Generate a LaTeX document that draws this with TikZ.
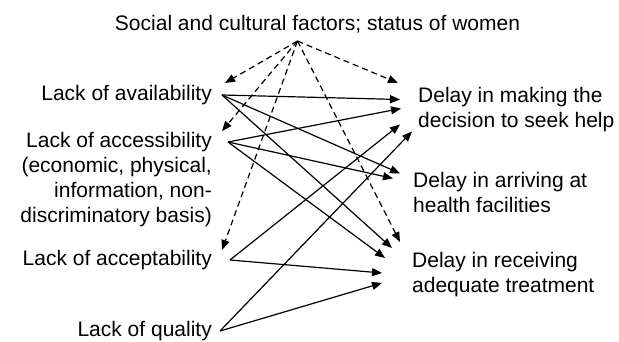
\documentclass[tikz,border=0pt]{standalone}
\usepackage{fontspec}
\setmainfont{Liberation Sans}
\usetikzlibrary{arrows.meta}

\begin{document}
\begin{tikzpicture}[
  x=1pt, y=-1pt,
  txt/.style={inner sep=0pt, font=\fontsize{21}{25}\selectfont},
  cause/.style={txt, anchor=north east, align=right},
  delay/.style={txt, anchor=north west, align=left},
  link/.style={-{Triangle[length=10pt,width=8pt]}, line width=1.2pt},
  infl/.style={link, dash pattern=on 6pt off 4pt}
]
\useasboundingbox (0,0) rectangle (619,341);

% context on top
\node[txt, anchor=north] (social) at (317.5,14.7) {Social and cultural factors; status of women};

% the four lacks, right aligned
\node[cause] (avail) at (212,85) {Lack of availability};
\node[cause] (access) at (212,132) {Lack of accessibility\\(economic, physical,\\information, non-\\discriminatory basis)};
\node[cause] (accept) at (212,250) {Lack of acceptability};
\node[cause] (quality) at (212,321) {Lack of quality};

% the three delays
\node[delay] (decision) at (418,87) {Delay in making the\\decision to seek help};
\node[delay] (arriving) at (413,172) {Delay in arriving at\\health facilities};
\node[delay] (receiving) at (412,252) {Delay in receiving\\adequate treatment};

% dashed influence of the context
\draw[infl] ([shift={(-20,8)}]social.south) -- ([shift={(13,-2)}]avail.north east);
\draw[infl] ([shift={(-20,8)}]social.south) -- ([shift={(10,-1)}]access.north east);
\draw[infl] ([shift={(-20,8)}]social.south) -- ([shift={(10,0)}]accept.north east);
\draw[infl] ([shift={(-20,8)}]social.south) -- ([shift={(-20,-4)}]decision.north west);
\draw[infl] ([shift={(-20,8)}]social.south) -- ([shift={(-12,-10)}]receiving.north west);

% availability
\draw[link] ([xshift=10pt]avail.east) -- ([shift={(-18,-10)}]decision.west);
\draw[link] ([xshift=10pt]avail.east) -- ([shift={(-13,-19)}]arriving.west);
\draw[link] ([xshift=10pt]avail.east) -- ([shift={(-20,-4)}]receiving.north west);
% accessibility
\draw[link] ([shift={(16,10)}]access.north east) -- ([shift={(-17,-1)}]decision.west);
\draw[link] ([shift={(16,10)}]access.north east) -- ([shift={(-20,-14)}]arriving.west);
\draw[link] ([shift={(16,10)}]access.north east) -- ([shift={(-27,6)}]receiving.north west);
% acceptability
\draw[link] ([xshift=18pt]accept.east) -- ([shift={(-18,15)}]decision.west);
\draw[link] ([xshift=18pt]accept.east) -- ([shift={(-30,-1.5)}]receiving.west);
% quality
\draw[link] ([xshift=8pt]quality.east) -- ([shift={(-6,22)}]decision.west);
\draw[link] ([xshift=8pt]quality.east) -- ([shift={(-30,8.5)}]receiving.west);
\end{tikzpicture}
\end{document}
